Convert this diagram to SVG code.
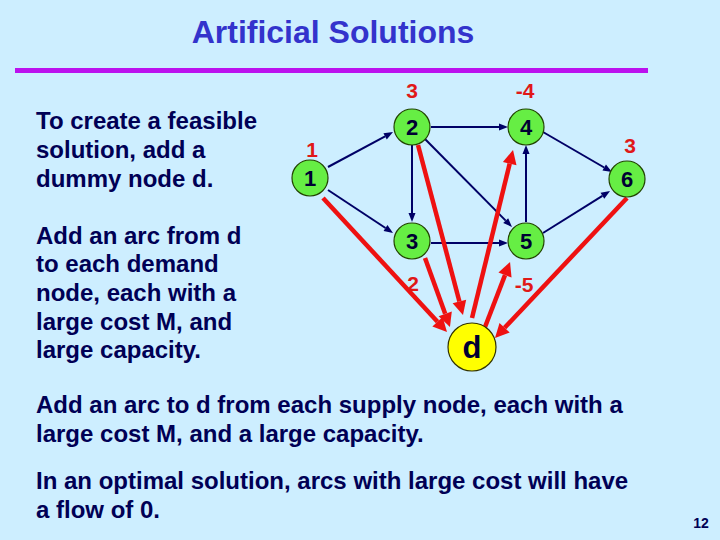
<svg xmlns="http://www.w3.org/2000/svg" width="720" height="540" viewBox="0 0 720 540">
<defs>
<style>
.body{font-family:"Liberation Sans",Arial,sans-serif;font-weight:bold;font-size:24px;fill:#000055}
.lbl{font-family:"Liberation Sans",Arial,sans-serif;font-weight:bold;font-size:21px;fill:#e01818;text-anchor:middle}
.nd{fill:#66ee44;stroke:#224400;stroke-width:1.2}
.nt{font-family:"Liberation Sans",Arial,sans-serif;font-weight:bold;font-size:22px;fill:#000033;text-anchor:middle}
.blue{stroke:#000066;stroke-width:2;fill:none}
.red{stroke:#ee1111;stroke-width:4.5;fill:none}
</style>
<marker id="ab" markerUnits="userSpaceOnUse" markerWidth="12" markerHeight="10" refX="0" refY="4" orient="auto" overflow="visible">
<path d="M0,0.5 L9,4 L0,7.5 z" fill="#000066"/>
</marker>
<marker id="ar" markerUnits="userSpaceOnUse" markerWidth="16" markerHeight="14" refX="0" refY="7" orient="auto" overflow="visible">
<path d="M0,0 L14,7 L0,14 z" fill="#ee1111"/>
</marker>
</defs>
<rect width="720" height="540" fill="#cdeeff"/>
<text x="333" y="43" text-anchor="middle" font-family="Liberation Sans,Arial,sans-serif" font-weight="bold" font-size="32" fill="#3333cc">Artificial Solutions</text>
<rect x="15" y="68" width="633" height="5" fill="#bb11ee"/>
<g id="text-left">
<text class="body" x="36" y="129">To create a feasible</text>
<text class="body" x="36" y="158">solution, add a</text>
<text class="body" x="36" y="187">dummy node d.</text>
<text class="body" x="36" y="244">Add an arc from d</text>
<text class="body" x="36" y="272">to each demand</text>
<text class="body" x="36" y="301">node, each with a</text>
<text class="body" x="36" y="330">large cost M, and</text>
<text class="body" x="36" y="358">large capacity.</text>
</g>
<g id="text-bottom">
<text class="body" x="36" y="413">Add an arc to d from each supply node, each with a</text>
<text class="body" x="36" y="442">large cost M, and a large capacity.</text>
<text class="body" x="36" y="489">In an optimal solution, arcs with large cost will have</text>
<text class="body" x="36" y="518">a flow of 0.</text>
</g>
<text x="701" y="528" text-anchor="middle" font-family="Liberation Sans,Arial,sans-serif" font-weight="bold" font-size="14" fill="#000055">12</text>
<g id="connectors">
<line class="blue" x1="328" y1="167" x2="385.1" y2="136.3" marker-end="url(#ab)"/>
<line class="blue" x1="328" y1="190" x2="385.5" y2="228" marker-end="url(#ab)"/>
<line class="blue" x1="431" y1="127" x2="499" y2="127" marker-end="url(#ab)"/>
<line class="blue" x1="412" y1="145" x2="412" y2="213" marker-end="url(#ab)"/>
<line class="blue" x1="424" y1="138" x2="505.7" y2="220.6" marker-end="url(#ab)"/>
<line class="blue" x1="431" y1="243" x2="499" y2="243" marker-end="url(#ab)"/>
<line class="blue" x1="526" y1="222" x2="526" y2="154" marker-end="url(#ab)"/>
<line class="blue" x1="543" y1="132" x2="604.2" y2="167.5" marker-end="url(#ab)"/>
<line class="blue" x1="543" y1="233" x2="602.4" y2="195.8" marker-end="url(#ab)"/>
<line class="red" x1="323" y1="198" x2="437.5" y2="321.7" marker-end="url(#ar)"/>
<line class="red" x1="418" y1="145" x2="459.4" y2="301.5" marker-end="url(#ar)"/>
<line class="red" x1="425" y1="258" x2="445.2" y2="313.8" marker-end="url(#ar)"/>
<line class="red" x1="472" y1="318" x2="509.7" y2="163.6" marker-end="url(#ar)"/>
<line class="red" x1="485" y1="327" x2="505" y2="275.1" marker-end="url(#ar)"/>
<line class="red" x1="627" y1="198" x2="504.6" y2="327.8" marker-end="url(#ar)"/>
</g>
<g id="node-1"><circle class="nd" cx="310" cy="178" r="18"/><text class="nt" x="310" y="186">1</text><text class="lbl" x="312" y="157">1</text></g>
<g id="node-2"><circle class="nd" cx="412" cy="127" r="18"/><text class="nt" x="412" y="135">2</text><text class="lbl" x="412" y="98">3</text></g>
<g id="node-4"><circle class="nd" cx="526" cy="127" r="18"/><text class="nt" x="526" y="135">4</text><text class="lbl" x="525" y="98">-4</text></g>
<g id="node-6"><circle class="nd" cx="627" cy="179" r="18"/><text class="nt" x="627" y="187">6</text><text class="lbl" x="630" y="153">3</text></g>
<g id="node-3"><circle class="nd" cx="412" cy="241" r="18"/><text class="nt" x="412" y="249">3</text><text class="lbl" x="413" y="291">2</text></g>
<g id="node-5"><circle class="nd" cx="526" cy="241" r="18"/><text class="nt" x="526" y="249">5</text><text class="lbl" x="524" y="292">-5</text></g>
<g id="node-d"><circle cx="472" cy="347" r="24" fill="#ffff00" stroke="#333300" stroke-width="1.2"/><text x="472" y="358" text-anchor="middle" font-family="Liberation Sans,Arial,sans-serif" font-weight="bold" font-size="31" fill="#000033">d</text></g>
</svg>
